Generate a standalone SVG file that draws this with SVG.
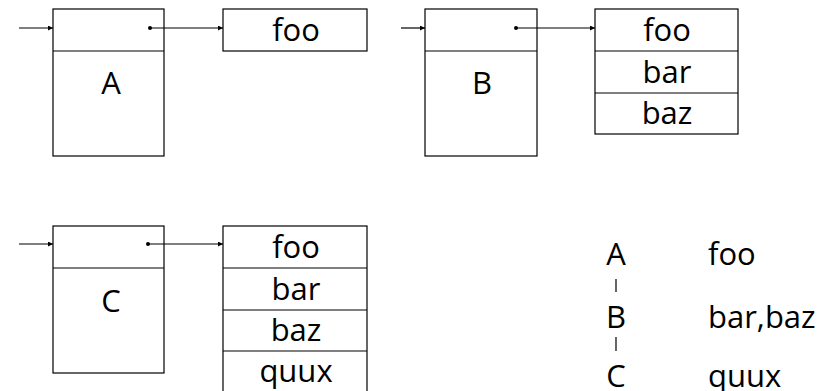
<svg xmlns="http://www.w3.org/2000/svg" width="834" height="391" viewBox="0 0 834 391">
  <style>
    .box { fill: #fff; stroke: #000; stroke-width: 1.2; }
    .div { stroke: #000; stroke-width: 1.2; }
    .lbl { font-family: "Open Sans", "DejaVu Sans", sans-serif; font-size: 31px; fill: #000; }
    .mid { text-anchor: middle; }
    .wire { stroke: #000; stroke-width: 1.2; fill: none; marker-end: url(#head); }
    .dot { fill: #000; }
  </style>
  <defs>
    <marker id="head" viewBox="0 0 6 6" refX="6" refY="3" markerWidth="5" markerHeight="5" orient="auto" markerUnits="userSpaceOnUse">
      <path d="M0,0 L6,3 L0,6 z" fill="#000"/>
    </marker>
  </defs>

  <!-- record A and its list -->
  <g id="recA">
    <rect class="box" x="53" y="9" width="111" height="147"/>
    <line class="div" x1="53" y1="51" x2="164" y2="51"/>
    <text class="lbl mid" x="111" y="94">A</text>
  </g>
  <g id="listA">
    <rect class="box" x="223" y="9" width="144" height="42"/>
    <text class="lbl mid" x="296" y="41">foo</text>
  </g>

  <!-- record B and its list -->
  <g id="recB">
    <rect class="box" x="425" y="9" width="112" height="147"/>
    <line class="div" x1="425" y1="51" x2="537" y2="51"/>
    <text class="lbl mid" x="482" y="94">B</text>
  </g>
  <g id="listB">
    <rect class="box" x="595" y="9" width="143" height="125"/>
    <line class="div" x1="595" y1="51" x2="738" y2="51"/>
    <line class="div" x1="595" y1="93" x2="738" y2="93"/>
    <text class="lbl mid" x="667" y="41">foo</text>
    <text class="lbl mid" x="667" y="83">bar</text>
    <text class="lbl mid" x="667" y="124">baz</text>
  </g>

  <!-- record C and its list -->
  <g id="recC">
    <rect class="box" x="53" y="226" width="111" height="147"/>
    <line class="div" x1="53" y1="268" x2="164" y2="268"/>
    <text class="lbl mid" x="111" y="312">C</text>
  </g>
  <g id="listC">
    <rect class="box" x="223" y="226" width="144" height="168"/>
    <line class="div" x1="223" y1="268" x2="367" y2="268"/>
    <line class="div" x1="223" y1="310" x2="367" y2="310"/>
    <line class="div" x1="223" y1="351" x2="367" y2="351"/>
    <text class="lbl mid" x="296" y="258">foo</text>
    <text class="lbl mid" x="296" y="300">bar</text>
    <text class="lbl mid" x="296" y="341">baz</text>
    <text class="lbl mid" x="296" y="382">quux</text>
  </g>

  <!-- hierarchy legend -->
  <g id="legend">
    <text class="lbl mid" x="616" y="265">A</text>
    <text class="lbl mid" x="616" y="328">B</text>
    <text class="lbl mid" x="616" y="387">C</text>
    <line class="div" x1="616" y1="279" x2="616" y2="292"/>
    <line class="div" x1="616" y1="337" x2="616" y2="351"/>
    <text class="lbl" x="708" y="265">foo</text>
    <text class="lbl" x="708" y="328">bar,baz</text>
    <text class="lbl" x="708" y="387">quux</text>
  </g>

  <!-- pointers -->
  <g id="connectors">
    <line class="wire" x1="19" y1="28" x2="53" y2="28"/>
    <circle class="dot" cx="150" cy="28" r="2"/>
    <line class="wire" x1="150" y1="28" x2="223" y2="28"/>

    <line class="wire" x1="401" y1="28" x2="425" y2="28"/>
    <circle class="dot" cx="516" cy="28" r="2"/>
    <line class="wire" x1="516" y1="28" x2="595" y2="28"/>

    <line class="wire" x1="19" y1="244" x2="53" y2="244"/>
    <circle class="dot" cx="148" cy="244" r="2"/>
    <line class="wire" x1="148" y1="244" x2="223" y2="244"/>
  </g>
</svg>
